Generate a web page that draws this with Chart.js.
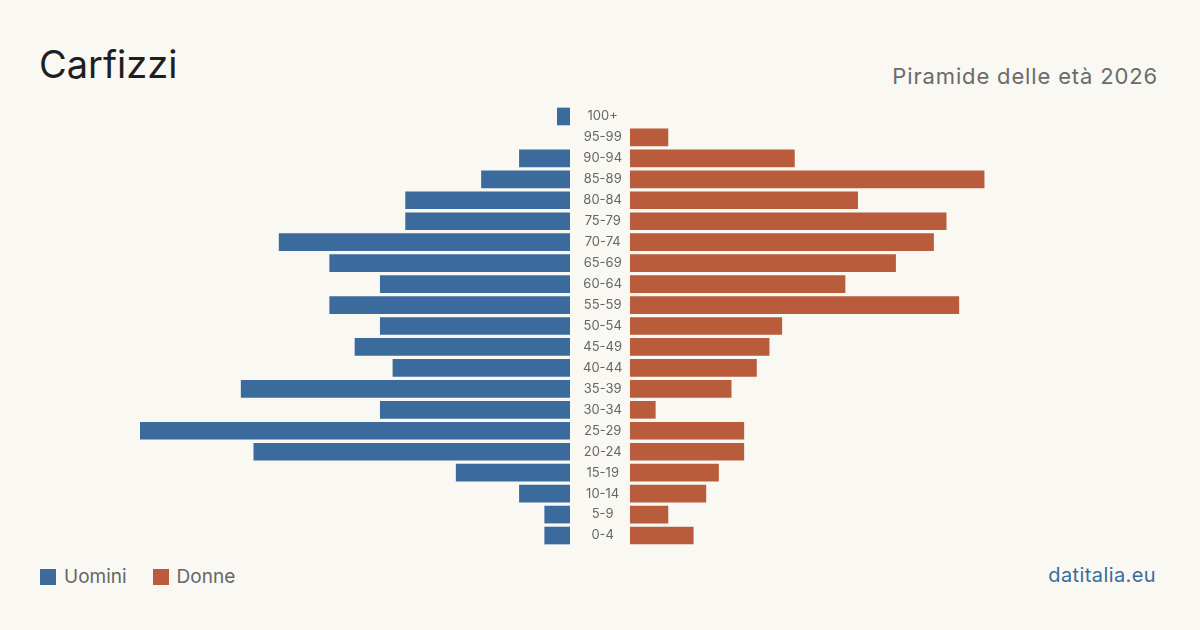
<!DOCTYPE html>
<html lang="it">
<head>
<meta charset="UTF-8">
<title>Carfizzi - Piramide delle età 2026</title>
<script src="https://cdn.jsdelivr.net/npm/chart.js@4"></script>
<style>
  html, body {
    margin: 0;
    padding: 0;
    width: 1200px;
    height: 630px;
    background: #f9f8f3;
    font-family: Inter, "Noto Sans", sans-serif;
    overflow: hidden;
  }
  .title {
    position: absolute;
    left: 39px;
    top: 41px;
    font-size: 38px;
    color: #1f1f1f;
  }
  .subtitle {
    position: absolute;
    right: 42px;
    top: 63px;
    font-size: 22px;
    letter-spacing: 0.85px;
    color: #6b6b6b;
  }
  .legend {
    position: absolute;
    left: 40px;
    top: 565px;
    font-size: 19px;
    color: #666;
    display: flex;
    align-items: center;
  }
  .legend span.box {
    display: inline-block;
    width: 16px;
    height: 16px;
    margin-right: 8px;
  }
  .legend .item {
    display: flex;
    align-items: center;
    margin-right: 26px;
  }
  .source {
    position: absolute;
    right: 44px;
    top: 563px;
    font-size: 20px;
    letter-spacing: 0.4px;
    color: #3b6b9c;
  }
  #leftWrap {
    position: absolute;
    left: 140px;
    top: 106px;
    width: 490px;
    height: 440px;
  }
  #rightWrap {
    position: absolute;
    left: 630px;
    top: 106px;
    width: 430px;
    height: 440px;
  }
</style>
</head>
<body>
<div class="title">Carfizzi</div>
<div class="subtitle">Piramide delle età 2026</div>

<div id="leftWrap"><canvas id="menChart"></canvas></div>
<div id="rightWrap"><canvas id="womenChart"></canvas></div>

<div class="legend">
  <div class="item"><span class="box" style="background:#3b6b9c"></span>Uomini</div>
  <div class="item"><span class="box" style="background:#b85c3c"></span>Donne</div>
</div>
<div class="source">datitalia.eu</div>

<script>
// Age groups, top to bottom
const ageGroups = [
  "100+", "95-99", "90-94", "85-89", "80-84", "75-79", "70-74",
  "65-69", "60-64", "55-59", "50-54", "45-49", "40-44", "35-39",
  "30-34", "25-29", "20-24", "15-19", "10-14", "5-9", "0-4",
];

// Residents per age group
const men = [1, 0, 4, 7, 13, 13, 23, 19, 15, 19, 15, 17, 14, 26, 15, 34, 25, 9, 4, 2, 2];
const women = [0, 3, 13, 28, 18, 25, 24, 21, 17, 26, 12, 11, 10, 8, 2, 9, 9, 7, 6, 3, 5];

const maxValue = 34;
const blue = "#3b6b9c";
const orange = "#b85c3c";

// empty groups get no bar at all (avoids a 1px sliver at the base)
const colorFor = (color) => (ctx) =>
  ctx.raw ? color : "rgba(0,0,0,0)";

// shared options for both halves
function baseOptions(reverse) {
  return {
    indexAxis: "y",
    responsive: true,
    maintainAspectRatio: false,
    animation: false,
    layout: { padding: 0 },
    plugins: {
      legend: { display: false },
      tooltip: { enabled: false },
    },
    scales: {
      x: {
        display: false,
        min: 0,
        max: maxValue,
        reverse: reverse,
      },
      y: {
        display: false,
        grid: { display: false },
      },
    },
  };
}

// Left half (men) - carries the age labels on its right side
const menOptions = baseOptions(true);
menOptions.scales.y = {
  position: "right",
  grid: { display: false, drawTicks: false },
  border: { display: false },
  ticks: {
    color: "#666",
    font: { family: "Inter", size: 13 },
    padding: 13,
    crossAlign: "center",
    autoSkip: false,
  },
  afterFit: (scale) => {
    scale.width = 60;
    // keep the label padding from shrinking the plot vertically
    scale.paddingTop = 0;
    scale.paddingBottom = 0;
  },
};

new Chart(document.getElementById("menChart"), {
  type: "bar",
  data: {
    labels: ageGroups,
    datasets: [
      {
        label: "Uomini",
        data: men,
        backgroundColor: colorFor(blue),
        barThickness: 17,
      },
    ],
  },
  options: menOptions,
});

// Right half (women)
new Chart(document.getElementById("womenChart"), {
  type: "bar",
  data: {
    labels: ageGroups,
    datasets: [
      {
        label: "Donne",
        data: women,
        backgroundColor: colorFor(orange),
        barThickness: 17,
      },
    ],
  },
  options: baseOptions(false),
});
</script>
</body>
</html>
